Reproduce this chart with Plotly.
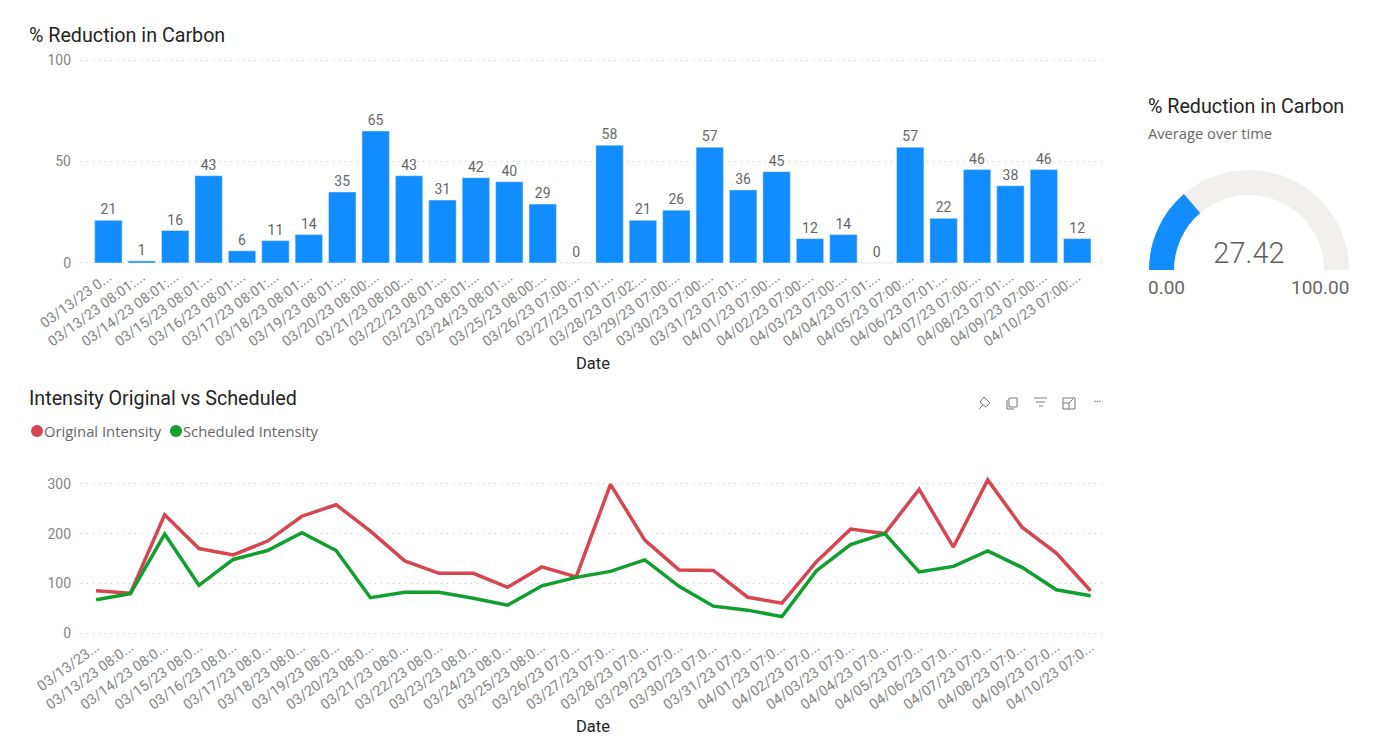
import plotly.graph_objects as go

W = 1384
H = 751

bar_dates = ["03/13/23 0...", "03/13/23 08:01:...", "03/14/23 08:01:...", "03/15/23 08:01:...", "03/16/23 08:01:...",
             "03/17/23 08:01:...", "03/18/23 08:01:...", "03/19/23 08:01:...", "03/20/23 08:00:...", "03/21/23 08:00:...",
             "03/22/23 08:01:...", "03/23/23 08:01:...", "03/24/23 08:01:...", "03/25/23 08:00:...", "03/26/23 07:00:...",
             "03/27/23 07:01:...", "03/28/23 07:02:...", "03/29/23 07:00:...", "03/30/23 07:00:...", "03/31/23 07:01:...",
             "04/01/23 07:00:...", "04/02/23 07:00:...", "04/03/23 07:00:...", "04/04/23 07:01:...", "04/05/23 07:00:...",
             "04/06/23 07:01:...", "04/07/23 07:00:...", "04/08/23 07:01:...", "04/09/23 07:00:...", "04/10/23 07:00:..."]
line_dates = ["03/13/23...", "03/13/23 08:0...", "03/14/23 08:0...", "03/15/23 08:0...", "03/16/23 08:0...",
              "03/17/23 08:0...", "03/18/23 08:0...", "03/19/23 08:0...", "03/20/23 08:0...", "03/21/23 08:0...",
              "03/22/23 08:0...", "03/23/23 08:0...", "03/24/23 08:0...", "03/25/23 08:0...", "03/26/23 07:0...",
              "03/27/23 07:0...", "03/28/23 07:0...", "03/29/23 07:0...", "03/30/23 07:0...", "03/31/23 07:0...",
              "04/01/23 07:0...", "04/02/23 07:0...", "04/03/23 07:0...", "04/04/23 07:0...", "04/05/23 07:0...",
              "04/06/23 07:0...", "04/07/23 07:0...", "04/08/23 07:0...", "04/09/23 07:0...", "04/10/23 07:0..."]
reduction = [21, 1, 16, 43, 6, 11, 14, 35, 65, 43, 31, 42, 40, 29, 0, 58, 21, 26, 57, 36, 45, 12, 14, 0, 57, 22, 46, 38, 46, 12]
original = [85, 80, 238, 170, 157, 185, 235, 258, 205, 145, 120, 120, 92, 133, 113, 299, 187, 127, 126, 72, 60, 143, 209, 200, 289, 173, 308, 213, 161, 85]
scheduled = [67, 79, 199, 96, 148, 166, 202, 166, 71, 82, 82, 70, 56, 95, 112, 124, 147, 94, 54, 46, 33, 125, 178, 200, 123, 134, 165, 132, 87, 75]
average_reduction = 27.42

BLUE = "#118DFF"
RED = "#D64550"
GREEN = "#0E9F2E"
TICK = "#858585"
DARK = "#252423"
TITLE_FONT = "Roboto"
BODY_FONT = "Open Sans"


def px(x):
    return x / W


def py(y):
    return 1 - y / H


fig = go.Figure()

fig.add_trace(go.Bar(x=bar_dates, y=reduction, marker_color=BLUE, width=0.82, showlegend=False,
                     text=reduction, textposition="outside", cliponaxis=False,
                     textfont=dict(family=TITLE_FONT, size=14, color="#666666")))

fig.add_trace(go.Scatter(x=line_dates, y=original, mode="lines", name="Original Intensity",
                         line=dict(color=RED, width=3.5), xaxis="x2", yaxis="y2", showlegend=False))
fig.add_trace(go.Scatter(x=line_dates, y=scheduled, mode="lines", name="Scheduled Intensity",
                         line=dict(color=GREEN, width=3.5), xaxis="x2", yaxis="y2", showlegend=False))

fig.add_trace(go.Indicator(mode="gauge+number", value=average_reduction,
                           number=dict(valueformat=".2f", font=dict(family=TITLE_FONT, size=29, color="#605E5C", weight=300)),
                           domain=dict(x=[px(1149), px(1349)], y=[py(270), py(170)]),
                           gauge=dict(shape="angular", bgcolor="#F1F0EF", borderwidth=0,
                                      bar=dict(color=BLUE, thickness=1),
                                      axis=dict(range=[0, 100], visible=False))))

axis_common = dict(showline=False, ticks="", tickangle=-36, type="category", automargin=False,
                   tickfont=dict(family=TITLE_FONT, size=14.5, color=TICK), showgrid=False, zeroline=False)
grid_common = dict(showgrid=True, griddash="1px,5px", gridcolor="#C8C8C8", gridwidth=1, zeroline=False, showline=False,
                   ticks="", automargin=False, ticklabelstandoff=9, tickfont=dict(family=TITLE_FONT, size=14, color=TICK))
date_title = dict(text="Date", standoff=8, font=dict(family=TITLE_FONT, size=16.5, color=DARK))

fig.update_layout(
    width=W, height=H, paper_bgcolor="white", plot_bgcolor="white",
    margin=dict(l=0, r=0, t=0, b=0), bargap=0.2, showlegend=False,
    font=dict(family=BODY_FONT, color=TICK),
    xaxis=dict(axis_common, domain=[px(81), px(1105)], range=[-0.82, 29.83], anchor="y", title=date_title),
    yaxis=dict(grid_common, domain=[py(265), py(58)], range=[-1, 101], tickvals=[0, 50, 100], anchor="x"),
    xaxis2=dict(axis_common, domain=[px(81), px(1105)], range=[-0.44, 29.42], anchor="y2", title=date_title),
    yaxis2=dict(grid_common, domain=[py(635), py(468)], range=[-4, 332], tickvals=[0, 100, 200, 300], anchor="x2"),
)


def label(text, x, y, size, color, family=TITLE_FONT, anchor="left"):
    fig.add_annotation(text=text, x=px(x), y=py(y), xref="paper", yref="paper", showarrow=False,
                       xanchor=anchor, yanchor="middle", borderpad=0, borderwidth=0,
                       font=dict(family=family, size=size, color=color))


label("% Reduction in Carbon", 29, 35, 19.7, DARK)
label("Intensity Original vs Scheduled", 29, 398, 19.7, DARK)
label("% Reduction in Carbon", 1148, 107, 19.7, DARK)
label("Average over time", 1148, 133, 14.7, "#666666", BODY_FONT)
label("0.00", 1148, 288, 19, "#666666")
label("100.00", 1349, 288, 19, "#666666", anchor="right")

# legend, dots sit much closer to the text than plotly's legend allows
label("Original Intensity", 44, 431, 14.8, "#666666", BODY_FONT)
label("Scheduled Intensity", 183, 431, 14.8, "#666666", BODY_FONT)
for cx, colour in [(37, RED), (176, GREEN)]:
    fig.add_shape(type="circle", xref="paper", yref="paper", fillcolor=colour, line_width=0,
                  x0=px(cx - 6), x1=px(cx + 6), y0=py(431 + 6), y1=py(431 - 6))


def icon(path):
    fig.add_shape(type="path", path=path, xref="paper", yref="paper", line=dict(color="#777777", width=1))


def pts(points, close=False):
    out = " ".join(("M" if i == 0 else "L") + f"{px(a):.5f},{py(b):.5f}" for i, (a, b) in enumerate(points))
    return out + (" Z" if close else "")


# visual header icons
icon(pts([(984, 397), (990, 403), (986, 407), (983, 405), (979, 409)]) + " " + pts([(984, 397), (980, 402), (983, 405)]))
icon(pts([(1009, 398), (1017, 398), (1017, 407), (1009, 407)], True))
icon(pts([(1007, 400), (1007, 409), (1014, 409)]))
icon(pts([(1034, 398), (1047, 398)]))
icon(pts([(1036, 402), (1045, 402)]))
icon(pts([(1039, 406), (1043, 406)]))
icon(pts([(1063, 398), (1075, 398), (1075, 409), (1063, 409)], True))
icon(pts([(1069, 403), (1073, 399)]))
icon(pts([(1063, 403), (1069, 403), (1069, 409)]))
label("•••", 1097, 402, 7, "#777777", anchor="center")

fig.write_html("out.html", config=dict(displayModeBar=False), post_script="document.body.style.margin='0';")
